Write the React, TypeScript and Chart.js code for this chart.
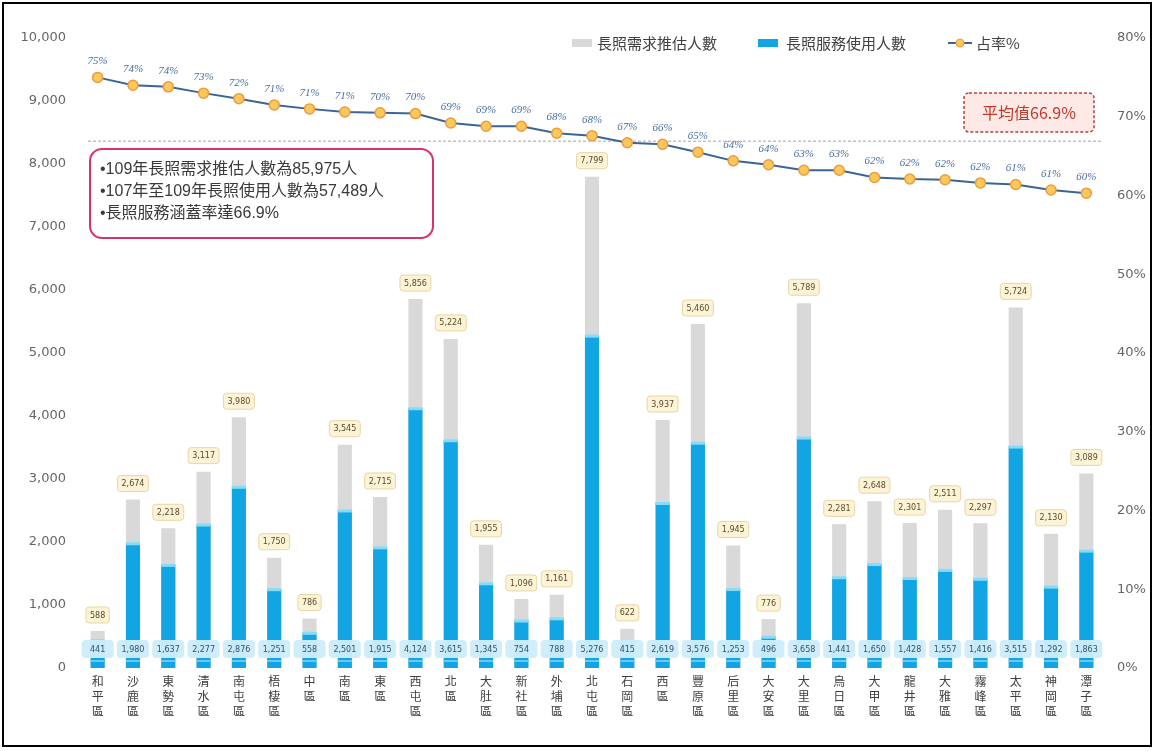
import React, { useEffect, useRef } from "react";
import { Chart, registerables } from "chart.js";

Chart.register(...registerables);

const districts = [
  "和平區", "沙鹿區", "東勢區", "清水區", "南屯區", "梧棲區", "中區", "南區", "東區", "西屯區",
  "北區", "大肚區", "新社區", "外埔區", "北屯區", "石岡區", "西區", "豐原區", "后里區", "大安區",
  "大里區", "烏日區", "大甲區", "龍井區", "大雅區", "霧峰區", "太平區", "神岡區", "潭子區",
];

const demand = [
  588, 2674, 2218, 3117, 3980, 1750, 786, 3545, 2715, 5856,
  5224, 1955, 1096, 1161, 7799, 622, 3937, 5460, 1945, 776,
  5789, 2281, 2648, 2301, 2511, 2297, 5724, 2130, 3089,
];

const usage = [
  441, 1980, 1637, 2277, 2876, 1251, 558, 2501, 1915, 4124,
  3615, 1345, 754, 788, 5276, 415, 2619, 3576, 1253, 496,
  3658, 1441, 1650, 1428, 1557, 1416, 3515, 1292, 1863,
];

const sharePct = [
  75.0, 74.0, 73.8, 73.0, 72.3, 71.5, 71.0, 70.6, 70.5, 70.4,
  69.2, 68.8, 68.8, 67.9, 67.6, 66.7, 66.5, 65.5, 64.4, 63.9,
  63.2, 63.2, 62.3, 62.1, 62.0, 61.6, 61.4, 60.7, 60.3,
];

const shareLabels = [
  "75%", "74%", "74%", "73%", "72%", "71%", "71%", "71%", "70%", "70%",
  "69%", "69%", "69%", "68%", "68%", "67%", "66%", "65%", "64%", "64%",
  "63%", "63%", "62%", "62%", "62%", "62%", "61%", "61%", "60%",
];

const averagePct = 66.9;
const averageLabel = "平均值66.9%";
const summaryLines = [
  "•109年長照需求推估人數為85,975人",
  "•107年至109年長照使用人數為57,489人",
  "•長照服務涵蓋率達66.9%",
];
const legendNames = ["長照需求推估人數", "長照服務使用人數", "占率%"];

const GRAY = "#d9d9d9";
const BLUE = "#12a5e4";
const LINE = "#3a6596";
const PT_FILL = "#fbc85c";
const PT_BORDER = "#ee9b3c";
const CJK = "'Noto Sans CJK TC', 'Noto Sans', sans-serif";
const MIXED = "'Liberation Sans', 'Noto Sans CJK TC', sans-serif";

const fmt = (n: number) => n.toLocaleString("en-US");

const overlayPlugin = {
  id: "overlay",
  beforeDatasetsDraw(chart: any) {
    const { ctx } = chart;
    const y1 = chart.scales.y1;
    const area = chart.chartArea;
    const ay = y1.getPixelForValue(averagePct);
    ctx.save();
    ctx.strokeStyle = "#a6a6a6";
    ctx.lineWidth = 1;
    ctx.setLineDash([3, 2]);
    ctx.beginPath();
    ctx.moveTo(area.left + 8, ay);
    ctx.lineTo(area.right - 2, ay);
    ctx.stroke();
    ctx.restore();
  },
  afterDatasetsDraw(chart: any) {
    const { ctx } = chart;
    const x = chart.scales.x;
    const y = chart.scales.y;
    const y1 = chart.scales.y1;
    const blueMeta = chart.getDatasetMeta(1);
    ctx.save();

    // light band at top of blue bars
    blueMeta.data.forEach((bar: any) => {
      ctx.fillStyle = "#86dcf7";
      ctx.fillRect(bar.x - bar.width / 2, bar.y - 1, bar.width, 3);
    });

    // demand labels
    ctx.font = `8px 'DejaVu Sans', sans-serif`;
    ctx.textAlign = "center";
    ctx.textBaseline = "middle";
    demand.forEach((v, i) => {
      const cx = x.getPixelForValue(i);
      const top = y.getPixelForValue(v);
      const cy = top - 16;
      const t = fmt(v);
      const w = ctx.measureText(t).width + 8;
      ctx.beginPath();
      ctx.roundRect(cx - w / 2, cy - 8, w, 16, 3);
      ctx.fillStyle = "#fdf3d6";
      ctx.fill();
      ctx.strokeStyle = "#e8d6a6";
      ctx.lineWidth = 1;
      ctx.stroke();
      ctx.fillStyle = "#5b4a2a";
      ctx.fillText(t, cx, cy + 0.5);
    });

    // usage labels at the base
    const base = y.getPixelForValue(0);
    usage.forEach((v, i) => {
      const cx = x.getPixelForValue(i);
      const cy = base - 19;
      const t = fmt(v);
      ctx.beginPath();
      ctx.roundRect(cx - 16, cy - 9, 32, 18, 4);
      ctx.fillStyle = "rgba(205,236,250,0.96)";
      ctx.fill();
      ctx.fillStyle = "#35506a";
      ctx.fillText(t, cx, cy + 0.5);
      ctx.fillStyle = "#6cc6ee";
      ctx.fillRect(cx - 7, cy + 11, 14, 2);
    });

    // percentage labels
    ctx.font = `italic 11px 'Liberation Serif', serif`;
    ctx.fillStyle = "#4a6ea3";
    sharePct.forEach((v, i) => {
      const cx = x.getPixelForValue(i);
      const py = y1.getPixelForValue(v);
      ctx.fillText(shareLabels[i], cx, py - 16);
    });

    // average box
    ctx.beginPath();
    ctx.roundRect(964, 93, 130, 39, 5);
    ctx.fillStyle = "#fde9e6";
    ctx.fill();
    ctx.setLineDash([3, 2]);
    ctx.strokeStyle = "#b5423f";
    ctx.lineWidth = 1.5;
    ctx.stroke();
    ctx.setLineDash([]);
    ctx.font = `16px ${CJK}`;
    ctx.fillStyle = "#c0392b";
    ctx.fillText(averageLabel, 1029, 113);

    // summary box
    ctx.beginPath();
    ctx.roundRect(90, 149, 343, 89, 12);
    ctx.fillStyle = "#ffffff";
    ctx.fill();
    ctx.strokeStyle = "#d6336c";
    ctx.lineWidth = 2;
    ctx.stroke();
    ctx.font = `16px ${MIXED}`;
    ctx.fillStyle = "#3a3a3a";
    ctx.textAlign = "left";
    summaryLines.forEach((s, i) => {
      ctx.fillText(s, 100, 170 + i * 22);
    });

    // legend
    ctx.font = `15px ${CJK}`;
    ctx.fillStyle = GRAY;
    ctx.fillRect(572, 39, 20, 8);
    ctx.fillStyle = "#404040";
    ctx.fillText(legendNames[0], 597, 43);
    ctx.fillStyle = BLUE;
    ctx.fillRect(758, 39, 20, 8);
    ctx.fillStyle = "#404040";
    ctx.fillText(legendNames[1], 786, 43);
    ctx.strokeStyle = LINE;
    ctx.lineWidth = 2;
    ctx.beginPath();
    ctx.moveTo(948, 43);
    ctx.lineTo(972, 43);
    ctx.stroke();
    ctx.beginPath();
    ctx.arc(960, 43, 4, 0, Math.PI * 2);
    ctx.fillStyle = PT_FILL;
    ctx.fill();
    ctx.strokeStyle = PT_BORDER;
    ctx.lineWidth = 1;
    ctx.stroke();
    ctx.fillStyle = "#404040";
    ctx.fillText(legendNames[2], 976, 43);

    ctx.restore();
  },
};

export default function App() {
  const ref = useRef<HTMLCanvasElement | null>(null);

  useEffect(() => {
    if (!ref.current) return;
    const chart = new Chart(ref.current, {
      type: "bar",
      data: {
        labels: districts,
        datasets: [
          {
            type: "bar",
            label: legendNames[0],
            data: demand,
            backgroundColor: GRAY,
            barPercentage: 0.4,
            categoryPercentage: 1,
            yAxisID: "y",
            order: 3,
          },
          {
            type: "bar",
            label: legendNames[1],
            data: usage,
            backgroundColor: BLUE,
            barPercentage: 0.4,
            categoryPercentage: 1,
            yAxisID: "y",
            order: 2,
          },
          {
            type: "line",
            label: legendNames[2],
            data: sharePct,
            yAxisID: "y1",
            borderColor: LINE,
            borderWidth: 2,
            pointRadius: 5,
            pointBackgroundColor: PT_FILL,
            pointBorderColor: PT_BORDER,
            pointBorderWidth: 1.5,
            tension: 0,
            order: 1,
          } as any,
        ],
      },
      options: {
        responsive: false,
        animation: false,
        layout: { padding: { top: 38, left: 0, right: 0, bottom: 0 } },
        plugins: {
          legend: { display: false },
          tooltip: { enabled: false },
        },
        scales: {
          x: {
            stacked: true,
            grid: { display: false, drawTicks: false },
            border: { display: false },
            ticks: {
              autoSkip: false,
              maxRotation: 0,
              minRotation: 0,
              padding: 6,
              color: "#404040",
              font: { family: CJK, size: 12, lineHeight: 1.25 },
              callback: (_v: any, i: number) => districts[i].split(""),
            },
            afterFit: (s: any) => {
              s.height = 83;
            },
          },
          y: {
            position: "left",
            stacked: false,
            min: 0,
            max: 10000,
            grid: { display: false, drawTicks: false },
            border: { display: false },
            ticks: {
              stepSize: 1000,
              padding: 14,
              color: "#666666",
              font: { family: "'DejaVu Sans', sans-serif", size: 13 },
              callback: (v: any) => fmt(Number(v)),
            },
            afterFit: (s: any) => {
              s.width = 80;
            },
          },
          y1: {
            position: "right",
            min: 0,
            max: 80,
            grid: { display: false, drawTicks: false },
            border: { display: false },
            ticks: {
              stepSize: 10,
              padding: 13,
              color: "#666666",
              font: { family: "'DejaVu Sans', sans-serif", size: 13 },
              callback: (v: any) => `${v}%`,
            },
            afterFit: (s: any) => {
              s.width = 52;
            },
          },
        },
      },
      plugins: [overlayPlugin],
    });
    return () => chart.destroy();
  }, []);

  return (
    <div style={{ position: "absolute", left: 0, top: 0, width: 1156, height: 751, background: "#fff" }}>
      <canvas ref={ref} width={1156} height={751} style={{ display: "block" }} />
      <div
        style={{
          position: "absolute",
          left: 2,
          top: 2,
          width: 1150,
          height: 745,
          border: "2px solid #000",
          boxSizing: "border-box",
          pointerEvents: "none",
        }}
      />
    </div>
  );
}
